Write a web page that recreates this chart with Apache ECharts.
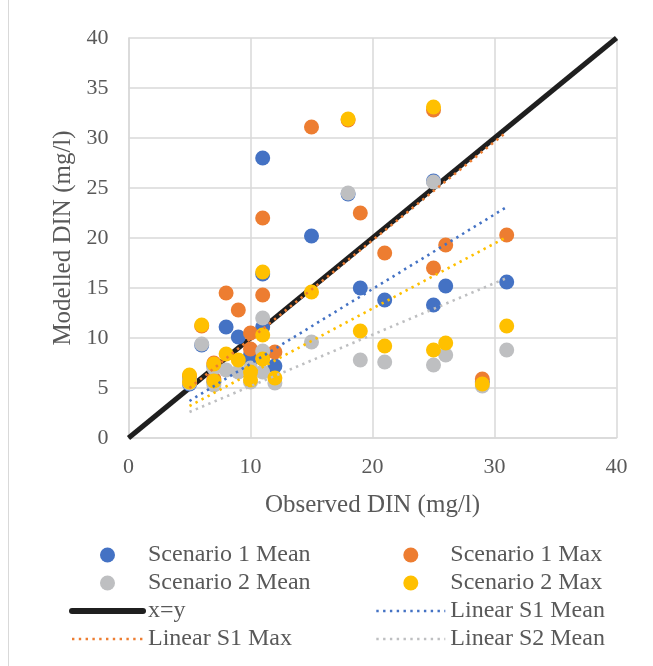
<!DOCTYPE html>
<html>
<head>
<meta charset="utf-8">
<script src="https://cdn.jsdelivr.net/npm/echarts@6/dist/echarts.min.js"></script>
<style>
  html, body { margin: 0; padding: 0; background: #fff; }
  #chart { width: 653px; height: 666px; }
</style>
</head>
<body>
<div id="chart"></div>
<script>
// observed values (mg/l) at each site, shared by all four scenario series
var observed = [5, 5, 6, 7, 7, 8, 9, 10, 10, 11, 11, 11, 12, 15, 18, 19, 21, 25, 25, 26, 29, 31];
// modelled values
var s1Mean = [5.9, 5.4, 9.3, 7.2, 5.6, 11.1, 10.1, 7.8, 8.3, 28.0, 16.4, 11.1, 7.2, 20.2, 24.4, 15.0, 13.8, 25.7, 13.3, 15.2, 5.6, 15.6];
var s1Max  = [6.2, 5.6, 11.2, 7.5, 5.9, 14.5, 12.8, 10.5, 8.9, 22.0, 14.3, 8.0, 8.6, 31.1, 31.8, 22.5, 18.5, 32.8, 17.0, 19.3, 5.9, 20.3];
var s2Mean = [5.8, 5.5, 9.4, 7.0, 5.3, 6.8, 6.6, 5.6, 7.0, 12.0, 8.7, 6.6, 5.5, 9.6, 24.5, 7.8, 7.6, 25.6, 7.3, 8.3, 5.2, 8.8];
var s2Max  = [6.3, 5.6, 11.3, 7.4, 5.7, 8.4, 7.8, 6.6, 5.8, 16.6, 10.3, 7.9, 6.0, 14.6, 31.9, 10.7, 9.2, 33.1, 8.8, 9.5, 5.4, 11.2];

// reference line and trend line end points
var lineXY       = [[0, 0], [40, 40]];
var trendS1Mean  = [[5, 3.7], [31, 23.1]];
var trendS1Max   = [[5, 5.0], [31, 30.6]];
var trendS2Mean  = [[5, 2.6], [31, 16.0]];
var trendS2Max   = [[5, 3.2], [31, 20.1]];

var axisTicks = [0, 10, 20, 30, 40];

function pairs(xs, ys) {
    var out = [];
    for (var i = 0; i < xs.length; i++) {
        out.push([xs[i], ys[i]]);
    }
    return out;
}

var font = '"Liberation Serif", "Times New Roman", serif';
var txt = '#595959';
var gridCol = '#d9d9d9';

function scatter(name, color, data) {
    return {
        name: name,
        type: 'scatter',
        symbol: 'circle',
        symbolSize: 15,
        itemStyle: { color: color, opacity: 1 },
        data: data,
        z: 3
    };
}
function dotted(name, color, data) {
    return {
        name: name,
        type: 'line',
        symbol: 'none',
        lineStyle: { color: color, width: 2.6, type: [2.4, 4.4] },
        itemStyle: { color: color },
        data: data,
        z: 5
    };
}
// legend entry for a line: no marker on it
function lineItem(name, w, cap) {
    return { name: name, itemStyle: { opacity: 0 }, lineStyle: { width: w, cap: cap } };
}

var legendText = { fontFamily: font, fontSize: 24, color: txt, lineHeight: 28 };

var option = {
    animation: false,
    backgroundColor: '#fff',
    graphic: [{
        type: 'rect',
        shape: { x: 8.5, y: -5, width: 700, height: 800 },
        style: { fill: 'none', stroke: '#d9d9d9', lineWidth: 1 },
        silent: true
    }],
    grid: { left: 128.5, right: 36.5, top: 38, bottom: 228, containLabel: false },
    xAxis: {
        type: 'value', min: 0, max: 40, interval: 10,
        name: 'Observed DIN (mg/l)', nameLocation: 'middle', nameGap: 55,
        nameTextStyle: { fontFamily: font, fontSize: 25, color: txt },
        axisLine: { show: true, lineStyle: { color: gridCol, width: 1.5 } },
        axisTick: { show: false },
        axisLabel: {
            fontFamily: font, fontSize: 22, color: txt, margin: 18,
            formatter: function (v) { return axisTicks.indexOf(v) >= 0 ? String(v) : ''; }
        },
        splitLine: { show: true, lineStyle: { color: gridCol, width: 1.5 } }
    },
    yAxis: {
        type: 'value', min: 0, max: 40, interval: 5,
        name: 'Modelled DIN (mg/l)', nameLocation: 'middle', nameGap: 53,
        nameTextStyle: { fontFamily: font, fontSize: 25, color: txt },
        axisLine: { show: true, lineStyle: { color: gridCol, width: 1.5 } },
        axisTick: { show: false },
        axisLabel: { fontFamily: font, fontSize: 22, color: txt, margin: 20 },
        splitLine: { show: true, lineStyle: { color: gridCol, width: 1.5 } }
    },
    legend: [
        {
            orient: 'vertical', left: 69, top: 541, padding: 0,
            itemWidth: 71, itemHeight: 15, itemGap: 0,
            textStyle: legendText,
            data: ['Scenario 1 Mean', 'Scenario 2 Mean', lineItem('x=y', 6, 'round'), lineItem('Linear S1 Max', 2.6, 'butt')]
        },
        {
            orient: 'vertical', left: 375, top: 541, padding: 0,
            itemWidth: 69, itemHeight: 15, itemGap: 0,
            textStyle: legendText,
            data: ['Scenario 1 Max', 'Scenario 2 Max', lineItem('Linear S1 Mean', 2.6, 'butt'), lineItem('Linear S2 Mean', 2.6, 'butt')]
        }
    ],
    series: [
        {
            name: 'x=y', type: 'line', symbol: 'none',
            lineStyle: { color: '#1f1f1f', width: 5 },
            itemStyle: { color: '#1f1f1f' },
            data: lineXY, z: 2
        },
        scatter('Scenario 1 Mean', '#4472C4', pairs(observed, s1Mean)),
        scatter('Scenario 1 Max', '#ED7D31', pairs(observed, s1Max)),
        scatter('Scenario 2 Mean', '#BEBFC1', pairs(observed, s2Mean)),
        scatter('Scenario 2 Max', '#FFC000', pairs(observed, s2Max)),
        dotted('Linear S1 Mean', '#4472C4', trendS1Mean),
        dotted('Linear S1 Max', '#ED7D31', trendS1Max),
        dotted('Linear S2 Mean', '#BEBFC1', trendS2Mean),
        dotted('Linear S2 Max', '#FFC000', trendS2Max)
    ]
};

var myChart = echarts.init(document.getElementById('chart'));
myChart.setOption(option);
</script>
</body>
</html>
